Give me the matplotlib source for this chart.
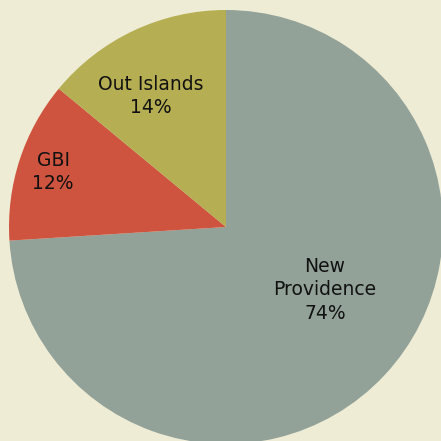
import matplotlib.pyplot as plt

# share of population by region
regions = ['New\nProvidence', 'GBI', 'Out Islands']
shares = [74, 12, 14]
colors = ['#93A299', '#CF543F', '#B5AE53']

# where the labels sit (in units of the pie radius)
label_pos = [(0.456, -0.29), (-0.797, 0.253), (-0.346, 0.604)]

bg = '#EEECD4'

fig = plt.figure(figsize=(4.41, 4.41), dpi=100, facecolor=bg)
ax = fig.add_axes([0, 0, 1, 1])
ax.set_facecolor(bg)

ax.pie(shares, colors=colors, startangle=90, counterclock=False, radius=1,
       wedgeprops=dict(linewidth=0))

for name, val, (x, y) in zip(regions, shares, label_pos):
    ax.text(x, y, f'{name}\n{val}%', ha='center', va='center',
            fontsize=13.5, color='#111111', family='DejaVu Sans',
            linespacing=1.3)

# pie center at (226, 227) px, radius 217 px
r = 217
ax.set_xlim(-226 / r, (441 - 226) / r)
ax.set_ylim(-(441 - 227) / r, 227 / r)
ax.set_aspect('auto')
ax.axis('off')

plt.savefig('out.png', dpi=100, facecolor=bg)
